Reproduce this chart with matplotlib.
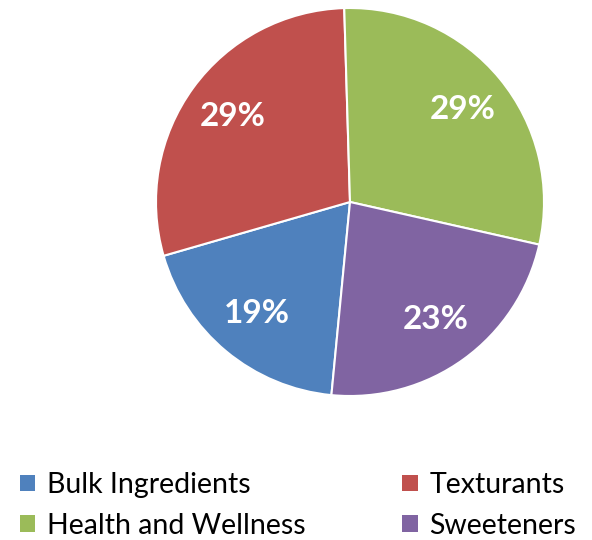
import matplotlib
matplotlib.use("Agg")
import matplotlib.pyplot as plt
from matplotlib.patches import Patch

# Share of each segment, in percent
segments = ["Bulk Ingredients", "Texturants", "Health and Wellness", "Sweeteners"]
shares = [19, 29, 29, 23]
colors = ["#4F81BD", "#C0504D", "#9BBB59", "#8064A2"]

plt.rcParams["font.family"] = ["Lato", "DejaVu Sans"]

W, H = 592, 540
fig = plt.figure(figsize=(W / 100, H / 100), dpi=100)

# pie centred near the top, legend underneath
cx, cy, r = 350, 202, 194
ax = fig.add_axes([(cx - r) / W, (H - cy - r) / H, 2 * r / W, 2 * r / H])
wedges, texts, autotexts = ax.pie(
    shares,
    colors=colors,
    startangle=-95.5,
    counterclock=False,
    autopct="%1.0f%%",
    pctdistance=0.75,
    radius=1,
    wedgeprops={"edgecolor": "white", "linewidth": 1.5},
    textprops={"color": "white", "fontsize": 24, "fontweight": "bold"},
)
ax.set_xlim(-1, 1)
ax.set_ylim(-1, 1)
ax.set_aspect("equal")

# legend filled column-wise, so reorder to get two rows
order = [0, 2, 1, 3]
handles = [Patch(facecolor=colors[i], edgecolor="none") for i in order]
labels = [segments[i] for i in order]
fig.legend(
    handles, labels,
    loc="upper left",
    bbox_to_anchor=(20 / W, 1 - 472 / H),
    ncol=2,
    frameon=False,
    fontsize=20.5,
    handlelength=0.53,
    handleheight=0.53,
    handletextpad=0.42,
    columnspacing=3.4,
    labelspacing=0.52,
    borderaxespad=0,
    borderpad=0,
)

fig.savefig("out.png", dpi=100)
